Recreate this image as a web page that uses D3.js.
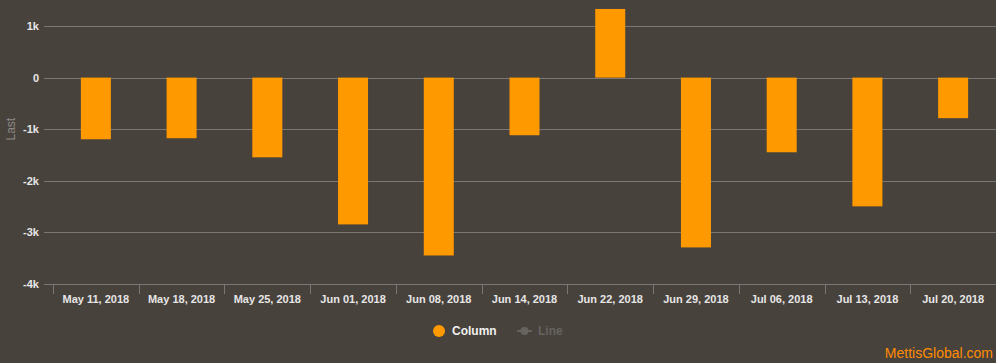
<!DOCTYPE html>
<html>
<head>
<meta charset="utf-8">
<script src="https://cdn.jsdelivr.net/npm/d3@7.9.0/dist/d3.min.js"></script>
<style>
  body { margin: 0; background: #48423d; }
  svg { display: block; font-family: "Liberation Sans", Arial, sans-serif; }
</style>
</head>
<body>
<div id="chart"></div>
<script>
const dates = ["May 11, 2018", "May 18, 2018", "May 25, 2018", "Jun 01, 2018", "Jun 08, 2018",
  "Jun 14, 2018", "Jun 22, 2018", "Jun 29, 2018", "Jul 06, 2018", "Jul 13, 2018", "Jul 20, 2018"];
const lastValues = [-1195, -1175, -1545, -2845, -3447, -1117, 1330, -3291, -1447, -2495, -786];
const yTicks = [1000, 0, -1000, -2000, -3000, -4000];
const yTickLabels = ["1k", "0", "-1k", "-2k", "-3k", "-4k"];

const width = 996;
const height = 363;

const svg = d3.select('#chart')
  .append('svg')
  .attr('width', width)
  .attr('height', height);

svg.append('rect')
  .attr('width', width)
  .attr('height', height)
  .attr('fill', '#48423d');

const xScale = d3.scaleBand()
  .domain(dates)
  .range([53, 996])
  .paddingInner(0.65)
  .paddingOuter(0.325);

const yScale = d3.scaleLinear()
  .domain([-4000, 1000])
  .range([284, 26]);

// gridlines
svg.append('g')
  .selectAll('line')
  .data(yTicks)
  .join('line')
  .attr('x1', 44)
  .attr('x2', width)
  .attr('y1', d => Math.round(yScale(d)) + 0.5)
  .attr('y2', d => Math.round(yScale(d)) + 0.5)
  .attr('stroke', '#7b7777')
  .attr('stroke-width', 1);

// y labels
svg.append('g')
  .selectAll('text')
  .data(yTicks)
  .join('text')
  .attr('x', 39)
  .attr('y', d => yScale(d) + 4)
  .attr('text-anchor', 'end')
  .attr('font-size', 11)
  .attr('font-weight', 'bold')
  .attr('fill', '#e6e6e6')
  .text((d, i) => yTickLabels[i]);

svg.append('text')
  .attr('transform', `translate(15, ${yScale(-1000)}) rotate(-90)`)
  .attr('text-anchor', 'middle')
  .attr('font-size', 12)
  .attr('fill', '#8e8a86')
  .text('Last');

// x tick marks between bands
const step = xScale.step();
const tickX = d3.range(dates.length + 1).map(i => 53 + i * step);
svg.append('g')
  .selectAll('line')
  .data(tickX)
  .join('line')
  .attr('x1', d => Math.round(d) + 0.5)
  .attr('x2', d => Math.round(d) + 0.5)
  .attr('y1', 284)
  .attr('y2', 294)
  .attr('stroke', '#7b7777');

// x labels
svg.append('g')
  .selectAll('text')
  .data(dates)
  .join('text')
  .attr('x', d => xScale(d) + xScale.bandwidth() / 2)
  .attr('y', 303)
  .attr('text-anchor', 'middle')
  .attr('font-size', 11)
  .attr('font-weight', 'bold')
  .attr('fill', '#e6e6e6')
  .text(d => d);

// bars
svg.append('g')
  .selectAll('rect')
  .data(lastValues)
  .join('rect')
  .attr('x', (d, i) => xScale(dates[i]))
  .attr('width', xScale.bandwidth())
  .attr('y', d => yScale(Math.max(0, d)))
  .attr('height', d => Math.abs(yScale(d) - yScale(0)))
  .attr('fill', '#ff9900');

// legend
const legend = svg.append('g');
legend.append('circle')
  .attr('cx', 439)
  .attr('cy', 331)
  .attr('r', 6)
  .attr('fill', '#ff9900');
legend.append('text')
  .attr('x', 452)
  .attr('y', 335)
  .attr('font-size', 12)
  .attr('font-weight', 'bold')
  .attr('fill', '#f0f0f0')
  .text('Column');
legend.append('line')
  .attr('x1', 517)
  .attr('x2', 532)
  .attr('y1', 331)
  .attr('y2', 331)
  .attr('stroke', '#66625f')
  .attr('stroke-width', 2);
legend.append('circle')
  .attr('cx', 524.5)
  .attr('cy', 331)
  .attr('r', 4)
  .attr('fill', '#66625f');
legend.append('text')
  .attr('x', 538)
  .attr('y', 335)
  .attr('font-size', 12)
  .attr('font-weight', 'bold')
  .attr('fill', '#66625f')
  .text('Line');

// watermark
svg.append('text')
  .attr('x', 993)
  .attr('y', 358)
  .attr('text-anchor', 'end')
  .attr('font-size', 14)
  .attr('fill', '#ff8c00')
  .text('MettisGlobal.com');
</script>
</body>
</html>
